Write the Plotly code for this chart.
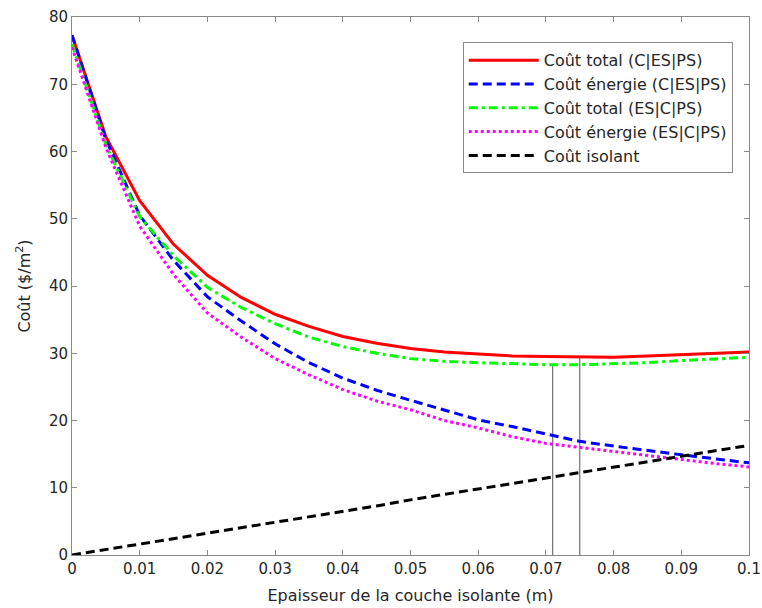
import plotly.graph_objects as go

# Insulation thickness (m)
epaisseur = [0.000, 0.005, 0.010, 0.015, 0.020, 0.025, 0.030, 0.035, 0.040, 0.045, 0.050,
             0.055, 0.060, 0.065, 0.070, 0.075, 0.080, 0.085, 0.090, 0.095, 0.100]

# Costs ($/m^2)
cout_total_c_es_ps = [77.3, 62.2, 52.7, 46.2, 41.6, 38.3, 35.8, 34.0, 32.5, 31.5, 30.7,
                      30.2, 29.9, 29.6, 29.5, 29.4, 29.4, 29.6, 29.8, 30.0, 30.2]
cout_energie_c_es_ps = [77.3, 61.8, 50.5, 43.8, 38.4, 34.8, 31.4, 28.6, 26.3, 24.5, 23.0,
                        21.5, 20.1, 19.1, 18.0, 16.9, 16.2, 15.5, 14.9, 14.3, 13.7]
cout_total_es_c_ps = [76.0, 61.0, 50.3, 44.5, 39.8, 36.8, 34.4, 32.4, 31.0, 30.0, 29.2,
                      28.8, 28.6, 28.4, 28.3, 28.3, 28.4, 28.6, 28.9, 29.1, 29.4]
cout_energie_es_c_ps = [75.5, 60.6, 48.9, 41.7, 36.0, 32.4, 29.2, 26.8, 24.6, 22.9, 21.6,
                        20.0, 18.9, 17.6, 16.6, 16.0, 15.4, 14.7, 14.1, 13.6, 13.1]
cout_isolant = [0.0, 0.8, 1.6, 2.4, 3.3, 4.1, 4.9, 5.7, 6.5, 7.3, 8.2,
                9.0, 9.8, 10.6, 11.4, 12.2, 13.0, 13.9, 14.7, 15.5, 16.3]

# Optimal thicknesses and the corresponding minimum total costs
e_opt = [0.071, 0.075]
cout_min = [28.3, 29.4]

x_ticks = [0, 0.01, 0.02, 0.03, 0.04, 0.05, 0.06, 0.07, 0.08, 0.09, 0.1]
x_tick_text = ["0", "0.01", "0.02", "0.03", "0.04", "0.05", "0.06", "0.07", "0.08", "0.09", "0.1"]
y_ticks = [0, 10, 20, 30, 40, 50, 60, 70, 80]

FONT = "DejaVu Sans, Liberation Sans, Arial, sans-serif"
TEXT = "#262626"
FRAME = "#8a8a8a"

fig = go.Figure()

# Vertical markers at the optimal thicknesses
for e, c in zip(e_opt, cout_min):
    fig.add_trace(go.Scatter(x=[e, e], y=[0, c], mode="lines",
                             line=dict(color="#707070", width=1.2),
                             showlegend=False, hoverinfo="skip"))

fig.add_trace(go.Scatter(x=epaisseur, y=cout_total_c_es_ps, mode="lines",
                         name="Coût total (C|ES|PS)",
                         line=dict(color="#ff0000", width=3)))
fig.add_trace(go.Scatter(x=epaisseur, y=cout_energie_c_es_ps, mode="lines",
                         name="Coût énergie (C|ES|PS)",
                         line=dict(color="#0000ff", width=3, dash="9px,5px")))
fig.add_trace(go.Scatter(x=epaisseur, y=cout_total_es_c_ps, mode="lines",
                         name="Coût total (ES|C|PS)",
                         line=dict(color="#00ff00", width=3, dash="9px,4px,3px,4px")))
fig.add_trace(go.Scatter(x=epaisseur, y=cout_energie_es_c_ps, mode="lines",
                         name="Coût énergie (ES|C|PS)",
                         line=dict(color="#ff00ff", width=3, dash="3px,3px")))
fig.add_trace(go.Scatter(x=epaisseur, y=cout_isolant, mode="lines",
                         name="Coût isolant",
                         line=dict(color="#000000", width=3, dash="9px,5px")))

fig.update_layout(
    width=762, height=608,
    margin=dict(l=72, r=13, t=17, b=53, autoexpand=False),
    paper_bgcolor="white", plot_bgcolor="white",
    font=dict(family=FONT, size=15, color=TEXT),
    showlegend=True,
    legend=dict(x=0.976, y=0.953, xanchor="right", yanchor="top",
                bgcolor="white", bordercolor=FRAME, borderwidth=1,
                font=dict(family=FONT, size=16, color=TEXT),
                tracegroupgap=0, itemwidth=70),
    xaxis=dict(range=[0, 0.1], tickvals=x_ticks, ticktext=x_tick_text,
               automargin=False,
               showgrid=False, zeroline=False,
               showline=True, linecolor=FRAME, linewidth=1, mirror="ticks",
               ticks="inside", ticklen=5, tickcolor=FRAME,
               tickfont=dict(family=FONT, size=15, color=TEXT),
               title=dict(text="Epaisseur de la couche isolante (m)", standoff=12,
                          font=dict(family=FONT, size=16, color=TEXT))),
    yaxis=dict(range=[0, 80], tickvals=y_ticks,
               automargin=False,
               showgrid=False, zeroline=False,
               showline=True, linecolor=FRAME, linewidth=1, mirror="ticks",
               ticks="inside", ticklen=5, tickcolor=FRAME,
               tickfont=dict(family=FONT, size=15, color=TEXT),
               title=dict(text="Coût ($/m<sup>2</sup>)", standoff=14,
                          font=dict(family=FONT, size=16, color=TEXT))),
)

fig.write_html("out.html")
